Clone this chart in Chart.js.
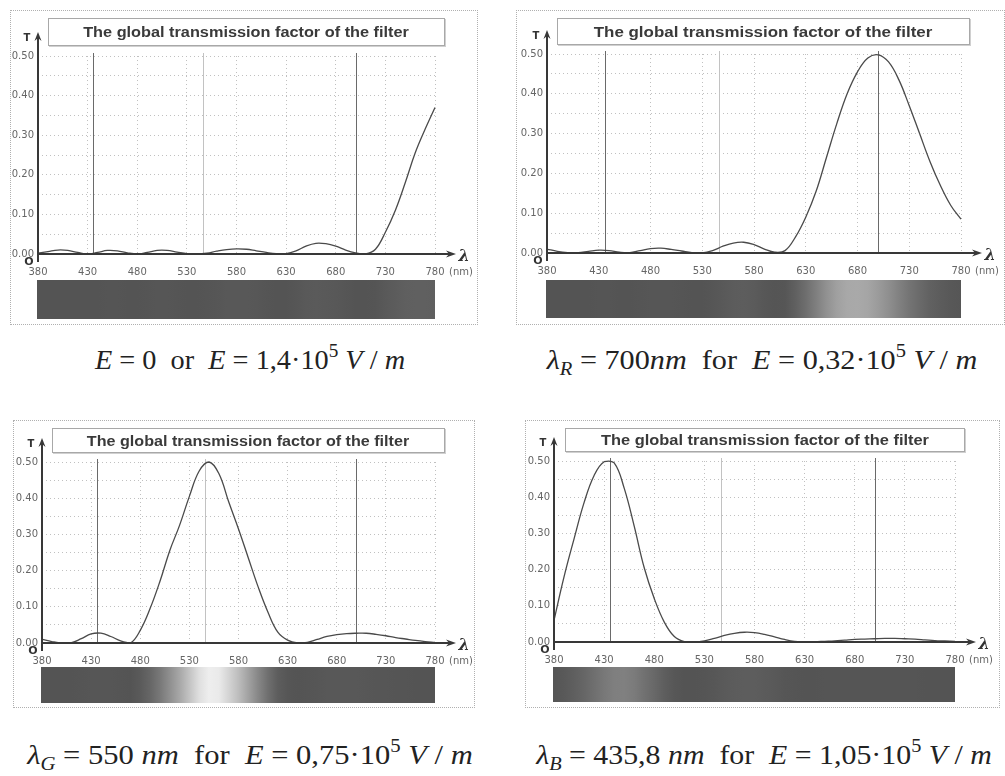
<!DOCTYPE html>
<html><head><meta charset="utf-8">
<script src="https://cdn.jsdelivr.net/npm/chart.js@4"></script>
<style>
html,body{margin:0;padding:0;background:#fff}
body{width:1005px;height:776px;overflow:hidden;position:relative;font-family:"DejaVu Sans",sans-serif}
.frame{position:absolute;border:1px dotted #b0b0b0;box-sizing:border-box}
canvas{position:absolute}
.title{position:absolute;border:1px solid #a8a8a8;box-shadow:1px 1px 0 #d0d0d0;box-sizing:border-box;display:flex;align-items:center;justify-content:center;background:#fff;white-space:nowrap}
.title span{display:inline-block;font:bold 14px "Liberation Sans",Arial,sans-serif;color:#3a3a3a}
.cap{position:absolute;font-family:"Liberation Serif",serif;font-size:28px;color:#222;white-space:nowrap;line-height:1}
.cap sup{font-size:0.68em;vertical-align:0.62em;line-height:0}
.cap sub{font-size:0.68em;vertical-align:-0.3em;line-height:0}
</style>
</head><body>
<script>
// ---------- data ----------
const WAVELENGTHS = [380,390,400,410,420,430,440,450,460,470,480,490,500,510,520,530,540,550,560,570,580,590,600,610,620,630,640,650,660,670,680,690,700,710,720,730,740,750,760,770,780];
// E = 0 (or E = 1,4e5 V/m)
const T_E0 = [0.002,0.006,0.010,0.009,0.004,0.000,0.004,0.009,0.008,0.003,0.000,0.004,0.009,0.009,0.005,0.001,0.000,0.002,0.007,0.011,0.013,0.012,0.008,0.004,0.001,0.001,0.008,0.020,0.027,0.026,0.020,0.010,0.003,0.000,0.012,0.055,0.110,0.180,0.255,0.315,0.370];
// lambda_R = 700 nm, E = 0,32e5 V/m
const T_RED = [0.010,0.004,0.001,0.001,0.004,0.007,0.006,0.002,0.001,0.006,0.011,0.012,0.009,0.005,0.001,0.000,0.006,0.017,0.025,0.027,0.021,0.010,0.002,0.006,0.040,0.090,0.155,0.240,0.325,0.400,0.455,0.490,0.498,0.480,0.435,0.370,0.300,0.230,0.170,0.120,0.085];
// lambda_G = 550 nm, E = 0,75e5 V/m
const T_GREEN = [0.010,0.004,0.000,0.001,0.012,0.025,0.027,0.018,0.006,0.000,0.035,0.095,0.170,0.255,0.325,0.405,0.475,0.500,0.468,0.390,0.315,0.235,0.155,0.085,0.030,0.008,0.000,0.002,0.010,0.018,0.023,0.026,0.027,0.027,0.024,0.020,0.015,0.011,0.007,0.004,0.002];
// lambda_B = 435,8 nm, E = 1,05e5 V/m
const T_BLUE = [0.060,0.180,0.285,0.385,0.460,0.498,0.495,0.425,0.320,0.205,0.120,0.055,0.015,0.001,0.000,0.003,0.010,0.018,0.024,0.027,0.026,0.021,0.014,0.007,0.002,0.001,0.001,0.002,0.003,0.005,0.007,0.008,0.009,0.010,0.010,0.009,0.008,0.006,0.004,0.003,0.002];
const X_MIN = 380, X_MAX = 780, X_STEP = 50;
const Y_MIN = 0, Y_MAX = 0.5, Y_STEP = 0.05;
const REF_LINES = [435.8, 546.1, 700];
const TITLE_TEXT = 'The global transmission factor of the filter';
const CAPTIONS = [
  '<i>E</i> = 0&nbsp; or &nbsp;<i>E</i> = 1,4·10<sup>5</sup> <i>V</i> / <i>m</i>',
  '<i>λ<sub>R</sub></i> = 700<i>nm</i>&nbsp; for &nbsp;<i>E</i> = 0,32·10<sup>5</sup> <i>V</i> / <i>m</i>',
  '<i>λ<sub>G</sub></i> = 550 <i>nm</i>&nbsp; for &nbsp;<i>E</i> = 0,75·10<sup>5</sup> <i>V</i> / <i>m</i>',
  '<i>λ<sub>B</sub></i> = 435,8 <i>nm</i>&nbsp; for &nbsp;<i>E</i> = 1,05·10<sup>5</sup> <i>V</i> / <i>m</i>'
];
const SERIES = [T_E0, T_RED, T_GREEN, T_BLUE];

// ---------- layout (page pixels) ----------
const LAYOUT = [
  {frame:[10,10,468,315],  plot:[38,435,56,254],  title:[48,18,397,28],  bar:[280,319], cap:[250,360,310]},
  {frame:[516,10,489,315], plot:[547,961,54,253], title:[557,18,413,27], bar:[280,318], cap:[762,360,430]},
  {frame:[13,420,462,288], plot:[42,435,462,643], title:[52,428,393,25], bar:[667,703], cap:[250,755,445]},
  {frame:[525,420,475,288],plot:[554,955,461,642],title:[565,428,400,24], bar:[667,702], cap:[764,755,455]}
];

function barShade(w, t){
  const lum = Math.exp(-Math.pow((w-585)/125, 2));
  const v = Math.round(Math.min(245, 84 + 334*t*lum));
  return 'rgb(' + v + ',' + v + ',' + v + ')';
}

function arrow(ctx, x, y, dir){
  ctx.beginPath();
  if (dir === 'up'){ ctx.moveTo(x, y); ctx.lineTo(x-3.5, y+9); ctx.lineTo(x, y+6); ctx.lineTo(x+3.5, y+9); }
  else { ctx.moveTo(x, y); ctx.lineTo(x-10, y-3.5); ctx.lineTo(x-7, y); ctx.lineTo(x-10, y+3.5); }
  ctx.closePath(); ctx.fill();
}

function decoPlugin(series, L){
  const fy = L.frame[1];
  return {
    id: 'deco',
    beforeDatasetsDraw(chart){
      const {ctx, chartArea:a, scales:{x, y}} = chart;
      ctx.save();
      REF_LINES.forEach((w, i) => {
        const px = Math.round(x.getPixelForValue(w)) + 0.5;
        ctx.strokeStyle = i === 1 ? '#c2c2c2' : '#6a6a6a';
        ctx.lineWidth = 1;
        ctx.beginPath(); ctx.moveTo(px, y.getPixelForValue(Y_MIN)); ctx.lineTo(px, a.top - 3); ctx.stroke();
      });
      ctx.restore();
    },
    afterDraw(chart){
      const {ctx, chartArea:a, scales:{x, y}} = chart;
      ctx.save();
      const x0 = Math.round(x.getPixelForValue(X_MIN)), x1 = x.getPixelForValue(X_MAX);
      const y0 = Math.round(y.getPixelForValue(Y_MIN));
      // axes
      ctx.strokeStyle = '#383838'; ctx.fillStyle = '#383838';
      ctx.lineWidth = 2;
      ctx.beginPath(); ctx.moveTo(x0, y0 + 8); ctx.lineTo(x0, a.top - 18); ctx.stroke();
      arrow(ctx, x0, a.top - 24, 'up');
      ctx.beginPath(); ctx.moveTo(x0, y0); ctx.lineTo(x1 + 16, y0); ctx.stroke();
      arrow(ctx, x1 + 21, y0, 'right');
      // axis labels
      ctx.fillStyle = '#333';
      ctx.font = 'bold 10px "DejaVu Sans"';
      ctx.textAlign = 'center'; ctx.textBaseline = 'middle';
      ctx.fillText('T', x0 - 11, a.top - 18);
      ctx.font = 'bold 11px "DejaVu Sans"';
      ctx.fillText('O', x0 - 9, y0 + 8);
      ctx.font = 'bold italic 16px "DejaVu Serif"';
      ctx.fillText('λ', x1 + 29, y0 + 3);
      ctx.font = '10px "DejaVu Sans"'; ctx.fillStyle = '#666';
      ctx.fillText('(nm)', x1 + 26, y0 + 18);
      // colour band of transmitted light
      const top = L.bar[0] - fy, bot = L.bar[1] - fy;
      const g = ctx.createLinearGradient(x0, 0, x1, 0);
      WAVELENGTHS.forEach((w, i) => g.addColorStop((w - X_MIN)/(X_MAX - X_MIN), barShade(w, series[i])));
      ctx.fillStyle = g;
      ctx.fillRect(x0 - 1, top, x1 - x0 + 1, bot - top);
      ctx.restore();
    }
  };
}

LAYOUT.forEach((L, k) => {
  const [fx, fy, fw, fh] = L.frame;
  const [pl, pr, pt, pb] = L.plot;
  const fr = document.createElement('div');
  fr.className = 'frame';
  Object.assign(fr.style, {left: fx+'px', top: fy+'px', width: fw+'px', height: fh+'px'});
  document.body.appendChild(fr);

  const cv = document.createElement('canvas');
  cv.width = fw; cv.height = fh;
  Object.assign(cv.style, {left: fx+'px', top: fy+'px', width: fw+'px', height: fh+'px'});
  document.body.appendChild(cv);

  const tb = document.createElement('div');
  tb.className = 'title';
  const ts = document.createElement('span');
  ts.textContent = TITLE_TEXT;
  tb.appendChild(ts);
  const [tx, ty, tw, th] = L.title;
  Object.assign(tb.style, {left: tx+'px', top: ty+'px', width: tw+'px', height: th+'px'});
  document.body.appendChild(tb);
  const tsw = ts.offsetWidth || 1;
  ts.style.transform = 'scaleX(' + (tw*0.82/tsw).toFixed(3) + ')';

  const cp = document.createElement('div');
  cp.className = 'cap'; cp.innerHTML = CAPTIONS[k];
  Object.assign(cp.style, {left: L.cap[0]+'px', top: L.cap[1]+'px'});
  document.body.appendChild(cp);
  const cw = cp.offsetWidth || 1;
  cp.style.transform = 'translate(-50%,-50%) scaleX(' + (L.cap[2]/cw).toFixed(3) + ')';

  const yW = pl - fx, xH = 22;
  const series = SERIES[k];
  new Chart(cv, {
    type: 'line',
    data: { datasets: [{
      data: WAVELENGTHS.map((w, i) => ({x: w, y: series[i]})),
      borderColor: '#4a4a4a', borderWidth: 1.3, pointRadius: 0, tension: 0.4, fill: false, clip: false
    }]},
    options: {
      responsive: false, animation: false, devicePixelRatio: 1,
      layout: { padding: { left: 0, top: pt - fy, right: fx + fw - pr, bottom: fy + fh - pb - xH } },
      plugins: { legend: {display: false}, tooltip: {enabled: false}, title: {display: false} },
      scales: {
        x: {
          type: 'linear', min: X_MIN, max: X_MAX,
          afterFit(s){ s.height = xH; },
          ticks: { stepSize: X_STEP, color: '#666', font: {family: 'DejaVu Sans', size: 10}, padding: 12, maxRotation: 0, autoSkip: false },
          grid: { color: '#c0c0c0', lineWidth: 1, drawTicks: false },
          border: { display: false, dash: [1, 3] }
        },
        y: {
          min: Y_MIN, max: Y_MAX,
          afterFit(s){ s.width = yW; },
          ticks: { stepSize: Y_STEP, color: '#666', font: {family: 'DejaVu Sans', size: 10}, padding: 4,
            callback: (v) => (Math.abs(v*10 - Math.round(v*10)) < 1e-6 ? v.toFixed(2) : '') },
          grid: { color: '#c0c0c0', lineWidth: 1, drawTicks: false },
          border: { display: false, dash: [1, 3] }
        }
      }
    },
    plugins: [decoPlugin(series, L)]
  });
});
</script>
</body></html>
